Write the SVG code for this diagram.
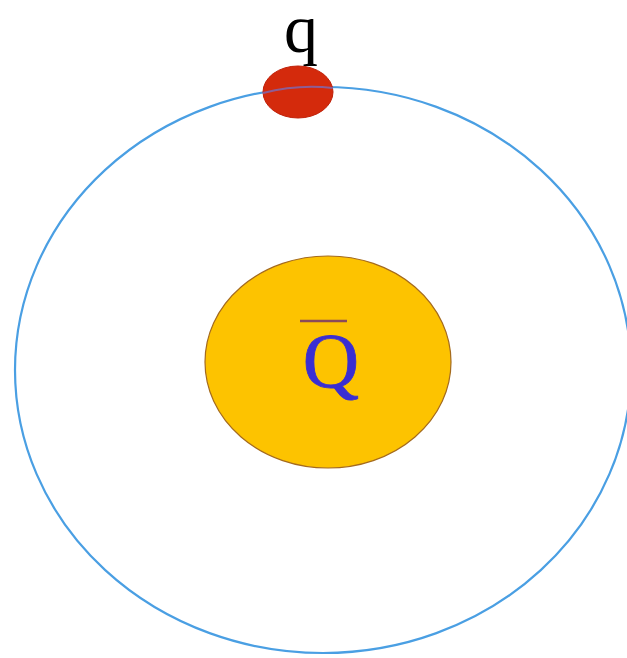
<svg xmlns="http://www.w3.org/2000/svg" width="627" height="658" viewBox="0 0 627 658">
<style>
.orbit{fill:none;stroke:#4a9fe3;stroke-width:2.2}
.lbl{font-family:"Liberation Serif","Times New Roman",serif}
</style>
<rect width="627" height="658" fill="#ffffff"/>
<g id="orbit"><ellipse class="orbit" cx="323" cy="370" rx="308" ry="283"/></g>
<g id="antiquark">
<ellipse cx="328" cy="362" rx="123" ry="106" fill="#fdc300" stroke="#a46a1e" stroke-width="1.2"/>
<line x1="300" y1="321" x2="347" y2="321" stroke="#8a4a5a" stroke-width="2.5"/>
<text class="lbl" x="331" y="387" font-size="78" fill="#3a2ed2" text-anchor="middle" stroke="#3a2ed2" stroke-width="0.8">Q</text>
</g>
<g id="quark">
<ellipse cx="298" cy="92" rx="35" ry="26" fill="#d42a0c" stroke="#c02008" stroke-width="1"/>
<path d="M263 93 Q298 84 333 88" fill="none" stroke="#7a6ab8" stroke-width="2.2" opacity="0.8"/>
<text class="lbl" x="301" y="52" font-size="68" fill="#000" text-anchor="middle">q</text>
</g>
</svg>
